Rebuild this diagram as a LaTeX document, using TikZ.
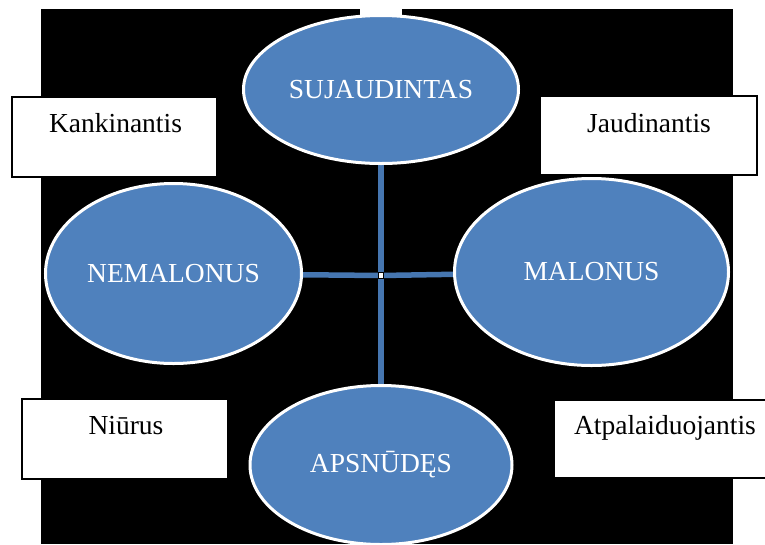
\documentclass[tikz,border=0pt]{standalone}
\usepackage{fontspec}
\setmainfont{Liberation Serif}
\usetikzlibrary{shapes.geometric,backgrounds,calc}
\definecolor{ovalblue}{RGB}{79,129,189}
\definecolor{linkblue}{RGB}{70,118,176}
\tikzset{
  oval/.style={ellipse, draw=white, line width=3pt, fill=ovalblue, inner sep=0pt,
    text=white, font=\fontsize{27.5}{31}\selectfont},
  wordbox/.style={rectangle, draw=black, line width=1.3pt, fill=white, inner sep=0pt},
  boxtext/.style={anchor=base, inner sep=0pt, text=black, font=\fontsize{27.5}{31}\selectfont},
  link/.style={draw=linkblue, line width=5.5pt},
  hubbox/.style={rectangle, draw=black, line width=0.8pt, fill=white, inner sep=0pt,
    minimum width=5pt, minimum height=6pt}
}
\begin{document}
\begin{tikzpicture}[x=1pt, y=-1pt]
  \useasboundingbox (0,0) rectangle (765,544);

  % word boxes
  \node[wordbox, minimum width=205pt, minimum height=80pt] (kbox) at (114.5,137) {};
  \node[wordbox, minimum width=217pt, minimum height=79pt] (jbox) at (648.5,135.5) {};
  \node[wordbox, minimum width=206pt, minimum height=80pt] (nbox) at (125,439) {};
  \node[wordbox, minimum width=222pt, minimum height=78pt] (abox) at (665,439) {};
  \node[boxtext] (ktext) at (115.5,132) {Kankinantis};
  \node[boxtext] (jtext) at (649,132) {Jaudinantis};
  \node[boxtext] (ntext) at (126,434) {Niūrus};
  \node[boxtext] (atext) at (665,434) {Atpalaiduojantis};

  % ovals
  \node[oval, minimum width=275pt, minimum height=148pt] (suj) at (381,89.5) {SUJAUDINTAS};
  \node[oval, minimum width=256pt, minimum height=180pt] (nem) at (173.5,273.5) {NEMALONUS};
  \node[oval, minimum width=274pt, minimum height=187pt] (mal) at (591.5,272) {MALONUS};
  \node[oval, minimum width=262pt, minimum height=159pt] (aps) at (381,465) {APSNŪDĘS};

  % centre handle
  \node[hubbox] (hub) at (381,275.5) {};

  \begin{pgfonlayer}{background}
    % dark backdrop with a small gap above the top oval
    \fill[black] (41,9) rectangle (733,544);
    \fill[white] (360,9) rectangle (402,16);
    % cross of connectors
    \draw[link] (suj) -- (hub.center);
    \draw[link] (hub.center) -- (aps);
    \draw[link] (nem) -- (hub.center);
    \draw[link] (hub.center) -- (mal);
  \end{pgfonlayer}
\end{tikzpicture}
\end{document}
